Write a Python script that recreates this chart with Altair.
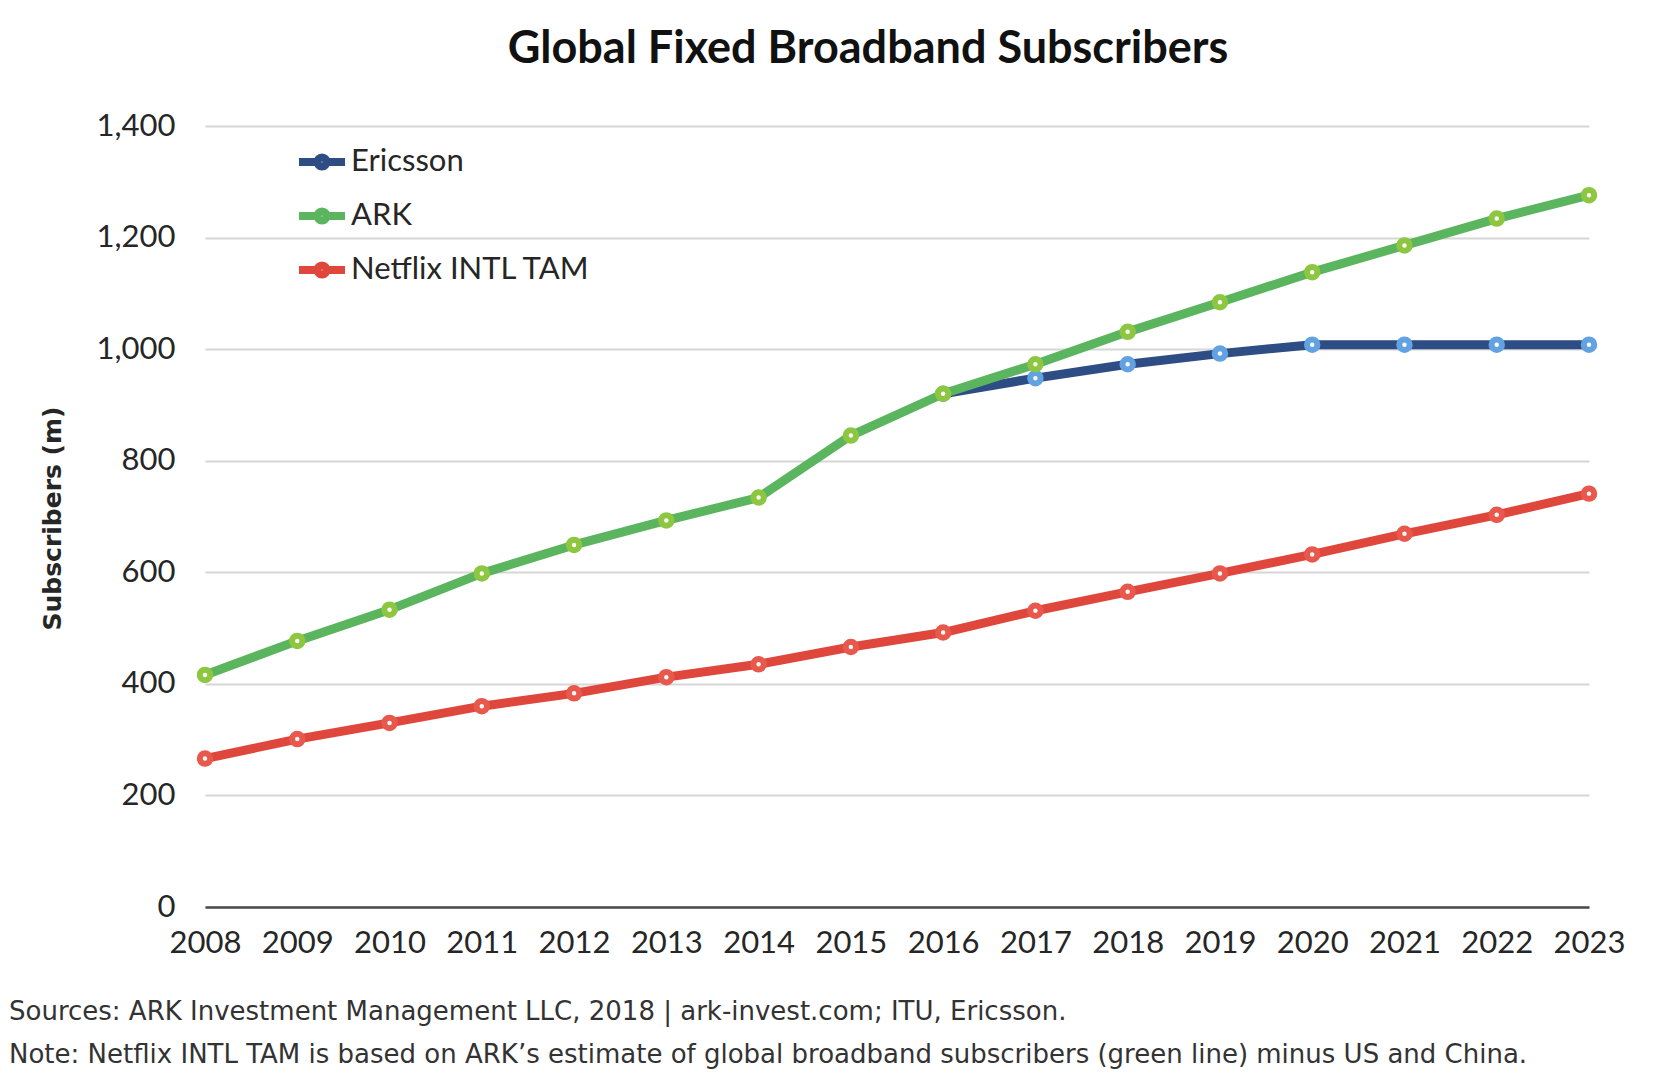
import altair as alt
import pandas as pd

# ---- data ----
years = list(range(2008, 2024))
ark = [416, 477, 533, 598, 649, 693, 734, 845, 920, 973, 1031, 1084, 1138, 1186, 1234, 1276]
ericsson_years = list(range(2016, 2024))
ericsson = [920, 948, 973, 992, 1008, 1008, 1008, 1008]
netflix = [266, 301, 330, 360, 383, 412, 435, 466, 492, 531, 565, 598, 632, 669, 703, 741]

series_names = ["Ericsson", "ARK", "Netflix INTL TAM"]
line_colors = ["#2D4D84", "#5BB55E", "#E0473C"]
marker_colors = ["#62A2E2", "#8DC640", "#E8584D"]
y_ticks = [0, 200, 400, 600, 800, 1000, 1200, 1400]

title_text = "Global Fixed Broadband Subscribers"
y_title = "Subscribers (m)"
sources_text = "Sources:  ARK Investment Management LLC, 2018 | ark-invest.com; ITU, Ericsson."
note_text = "Note: Netflix INTL TAM is based on ARK\u2019s estimate of global broadband subscribers (green line) minus US and China."

rows = []
for y, v in zip(ericsson_years, ericsson):
    rows.append({"year": y, "value": v, "series": "Ericsson"})
for y, v in zip(years, ark):
    rows.append({"year": y, "value": v, "series": "ARK"})
for y, v in zip(years, netflix):
    rows.append({"year": y, "value": v, "series": "Netflix INTL TAM"})
df = pd.DataFrame(rows)

FONT = "Lato"
WIDE = "DejaVu Sans"
TEXT = "#262626"

x_enc = alt.X(
    "year:Q",
    scale=alt.Scale(domain=[2008, 2023], nice=False, zero=False),
    axis=alt.Axis(
        title=None, values=years, format="d", grid=False, ticks=False, tickSize=0,
        labelFontSize=31, labelFont=FONT, labelColor=TEXT, labelPadding=21,
        domainColor="#4a4a4a", domainWidth=2.5, labelFlush=False,
    ),
)
y_enc = alt.Y(
    "value:Q",
    scale=alt.Scale(domain=[0, 1400], nice=False),
    axis=alt.Axis(
        title=y_title, values=y_ticks, format=",d", grid=True, gridColor="#d6d6d6",
        gridWidth=2, domain=False, ticks=False, tickSize=0,
        labelFontSize=31, labelFont=FONT, labelColor=TEXT, labelPadding=30,
        titleFont=WIDE, titleFontSize=25, titleFontWeight="bold", titleColor=TEXT,
        titleAngle=-90, titleX=-153, titleY=392, titleAlign="center",
        titleBaseline="middle",
    ),
)

legend_path = ("M-1,0 H-0.22 M0.22,0 H1 "
               "M-0.2,0 A0.2,0.2 0 1,0 0.2,0 A0.2,0.2 0 1,0 -0.2,0 Z")
legend = alt.Legend(
    title=None, orient="none", legendX=90, legendY=9, padding=0,
    symbolType=legend_path, symbolSize=2116, symbolStrokeWidth=8,
    symbolFillColor="white", labelFontSize=31, labelFont=FONT,
    labelColor=TEXT, rowPadding=6, labelOffset=2, labelLimit=500,
)
color_enc = alt.Color(
    "series:N",
    scale=alt.Scale(domain=series_names, range=line_colors),
    sort=series_names,
    legend=legend,
)

base = alt.Chart(df)
layers = []
for name, mc in zip(series_names, marker_colors):
    sub = base.transform_filter(alt.datum.series == name)
    layers.append(
        sub.mark_line(strokeWidth=9, strokeJoin="round").encode(
            x=x_enc, y=y_enc, color=color_enc
        )
    )
    layers.append(
        sub.mark_point(shape="circle", filled=True, fill="#fbfbf5", stroke=mc,
                       strokeWidth=6, size=110, opacity=1).encode(x=x_enc, y=y_enc)
    )

sources = alt.Chart(pd.DataFrame({"t": [sources_text]})).mark_text(
    align="left", baseline="middle", font=WIDE, fontSize=26, color="#333333"
).encode(text="t:N", x=alt.value(-196), y=alt.value(886))
note = alt.Chart(pd.DataFrame({"t": [note_text]})).mark_text(
    align="left", baseline="middle", font=WIDE, fontSize=26, color="#333333"
).encode(text="t:N", x=alt.value(-196), y=alt.value(929))

chart = alt.layer(*layers, sources, note).properties(
    width=1384,
    height=781,
    autosize=alt.AutoSizeParams(type="none"),
    padding={"left": 197, "top": 118, "right": 60, "bottom": 170},
    background="white",
    title=alt.Title(
        title_text, font=FONT, fontSize=45, fontWeight="bold", color="#111111",
        anchor="middle", frame="group", dx=-29, offset=38,
    ),
).configure_view(strokeWidth=0)

chart.save("out.html", embed_options={"renderer": "svg", "actions": False})
